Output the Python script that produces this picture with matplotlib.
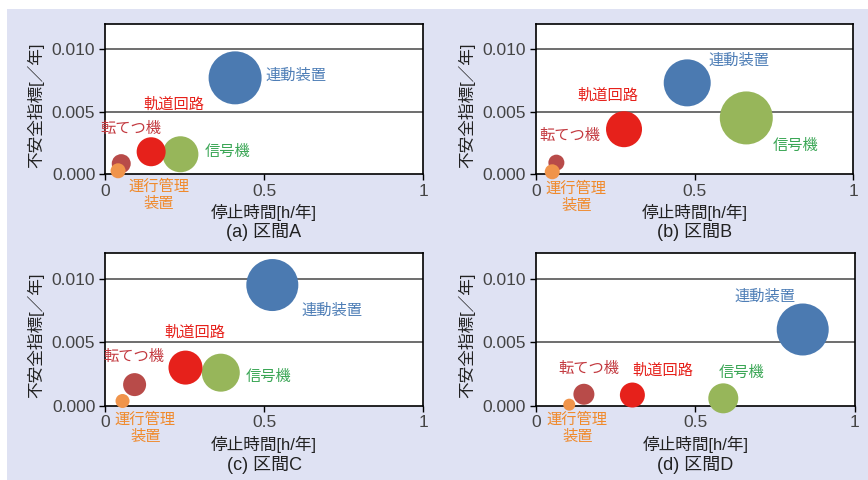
import matplotlib
matplotlib.use("Agg")
import matplotlib.pyplot as plt
from matplotlib.patches import Rectangle

plt.rcParams['font.family'] = ['Liberation Sans', 'Noto Sans CJK JP', 'DejaVu Sans']

# devices (same order in every section)
devices = ["連動装置", "信号機", "軌道回路", "転てつ機", "運行管理\n装置"]
bubble_colors = ["#4b7ab1", "#97b65a", "#e6211b", "#b84b49", "#f0944b"]
text_colors = ["#4d7db6", "#3aa655", "#e6211b", "#c33a40", "#f08a2c"]

sections = ["(a) 区間A", "(b) 区間B", "(c) 区間C", "(d) 区間D"]

# stop time [h/year]
stop_a = [0.409, 0.237, 0.145, 0.051, 0.041]
stop_b = [0.477, 0.663, 0.278, 0.065, 0.052]
stop_c = [0.526, 0.364, 0.253, 0.093, 0.055]
stop_d = [0.837, 0.588, 0.303, 0.151, 0.105]

# unsafe index [/year]
unsafe_a = [0.0077, 0.0016, 0.0018, 0.00085, 0.00028]
unsafe_b = [0.0073, 0.0045, 0.0036, 0.00093, 0.0002]
unsafe_c = [0.0095, 0.0026, 0.0030, 0.00166, 0.00037]
unsafe_d = [0.0060, 0.00058, 0.00084, 0.0009, 0.00008]

# bubble size (relative)
bubble_a = [53, 36, 29, 19, 15]
bubble_b = [47, 53, 36, 16, 15]
bubble_c = [52, 38, 34, 23, 14]
bubble_d = [52, 30, 25, 21, 12]

stops = [stop_a, stop_b, stop_c, stop_d]
unsafes = [unsafe_a, unsafe_b, unsafe_c, unsafe_d]
bubbles = [bubble_a, bubble_b, bubble_c, bubble_d]

# label placement per panel (data coords)
label_pos = [
    [(0.600, 0.00785), (0.384, 0.0018), (0.217, 0.00559), (0.081, 0.00362), (0.169, -0.00165)],
    [(0.641, 0.00905), (0.817, 0.00226), (0.226, 0.00628), (0.106, 0.00306), (0.128, -0.00184)],
    [(0.715, 0.0075), (0.513, 0.00229), (0.282, 0.00571), (0.091, 0.00382), (0.127, -0.00179)],
    [(0.720, 0.00856), (0.646, 0.00256), (0.399, 0.00276), (0.166, 0.0029), (0.130, -0.00179)],
]

fig = plt.figure(figsize=(8.68, 4.8), dpi=100)
fig.patches.append(Rectangle((7 / 868, 0), 1, 1 - 9 / 480, transform=fig.transFigure,
                             facecolor="#dfe2f3", edgecolor="none", zorder=-10))

boxes = [
    [0.121, 0.6369, 0.3664, 0.3131],
    [0.6172, 0.6369, 0.3659, 0.3131],
    [0.121, 0.1548, 0.3664, 0.3175],
    [0.6172, 0.1548, 0.3675, 0.3175],
]

for i in range(4):
    ax = fig.add_axes(boxes[i])
    ax.set_facecolor("white")
    ax.set_xlim(0, 1)
    ax.set_ylim(0, 0.012)
    ax.set_yticks([0, 0.005, 0.010])
    ax.set_yticklabels(["0.000", "0.005", "0.010"])
    ax.set_xticks([0, 0.5, 1])
    ax.set_xticklabels(["0", "0.5", "1"])
    ax.tick_params(direction='out', length=4, width=1, labelsize=12.5, color="black",
                   labelcolor="#444444", pad=3)
    for g in [0.005, 0.010]:
        ax.axhline(g, color="#555555", lw=1.2, zorder=0)
    for sp in ax.spines.values():
        sp.set_linewidth(1.2)
        sp.set_color("black")

    s = [(d * 0.72) ** 2 for d in bubbles[i]]
    ax.scatter(stops[i], unsafes[i], s=s, c=bubble_colors, edgecolors="none",
               zorder=3, clip_on=False)
    for k, name in enumerate(devices):
        lx, ly = label_pos[i][k]
        ax.text(lx, ly, name, color=text_colors[k], fontsize=11, ha="center", va="center",
                linespacing=1.3, clip_on=False, zorder=4)

    ax.text(-0.217, 0.46, "不安全指標[／年]", transform=ax.transAxes, rotation=90,
            ha="center", va="center", fontsize=12, color="#222222")
    ax.text(0.5, -0.255, "停止時間[h/年]", transform=ax.transAxes,
            ha="center", va="center", fontsize=12, color="#222222")
    ax.text(0.5, -0.387, sections[i], transform=ax.transAxes,
            ha="center", va="center", fontsize=13, color="#222222")

fig.savefig("out.png", dpi=100)
